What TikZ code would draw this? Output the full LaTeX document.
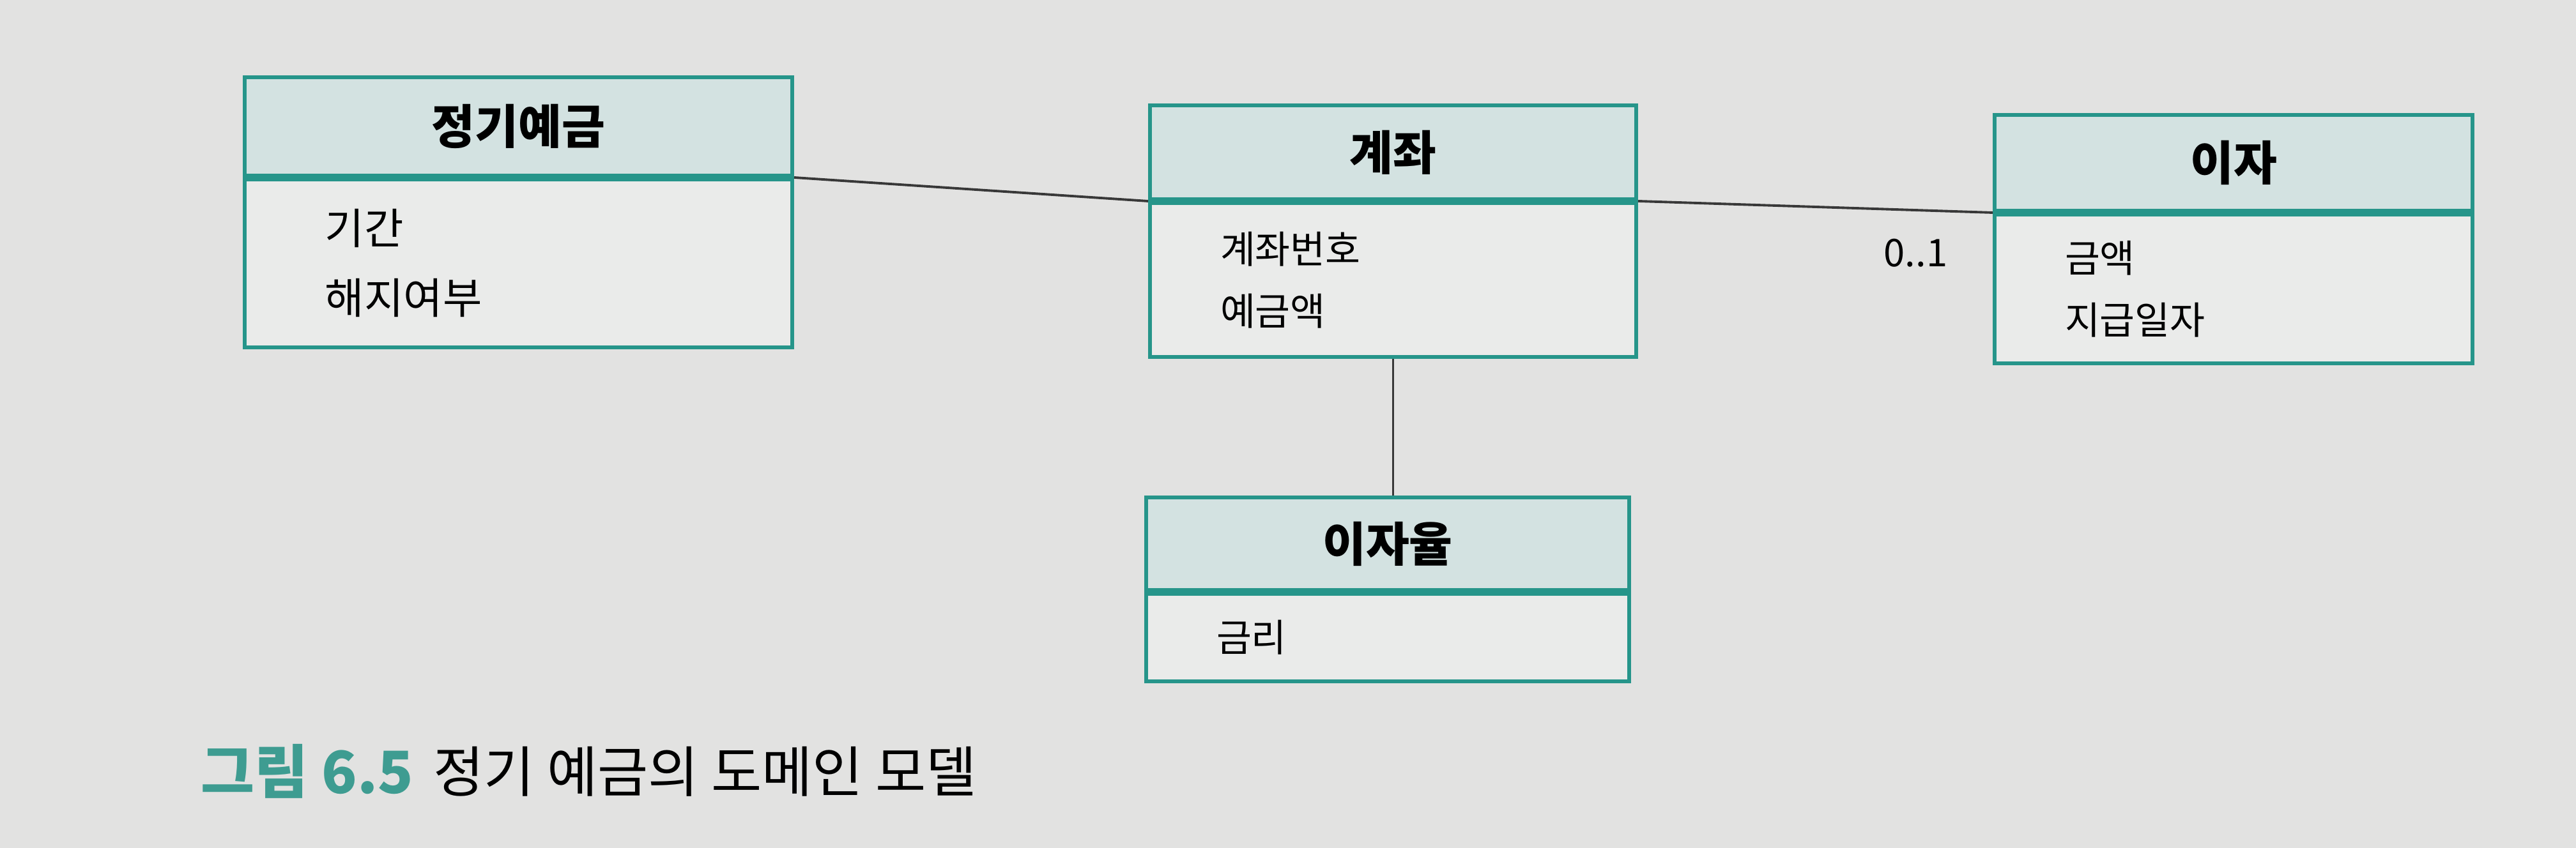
\documentclass[tikz,border=0pt]{standalone}
\usepackage{fontspec}
\setmainfont{Noto Sans CJK KR}
\usepackage{tikz}
\usetikzlibrary{positioning}

\definecolor{paper}{HTML}{E2E2E1}
\definecolor{boxline}{HTML}{26958A}
\definecolor{headfill}{HTML}{D3E2E1}
\definecolor{bodyfill}{HTML}{EAEBEA}
\definecolor{capteal}{HTML}{3E9C91}
\definecolor{wire}{HTML}{383838}

\tikzset{
  classhead/.style = {draw=boxline, line width=1.7pt, fill=headfill,
    inner sep=0pt, font=\fontsize{21}{25}\selectfont\bfseries},
  classbody/.style = {draw=boxline, line width=1.7pt, fill=bodyfill,
    inner xsep=1.1cm, inner ysep=0pt, align=left,
    font=\fontsize{17}{27.5}\selectfont},
  assoc/.style = {draw=wire, line width=1.1pt}
}

\begin{document}
\begin{tikzpicture}
    \useasboundingbox (0,0) rectangle (40.32,-13.28);
    \fill [paper] (0,0) rectangle (40.32,-13.28);

    % 클래스
    \node [classhead, anchor=north west, minimum width=8.57cm, minimum height=1.54cm]
      (jg) at (3.80,-1.18) {정기예금};
    \node [classbody, below=0pt of jg, minimum width=8.57cm, minimum height=2.63cm,
      inner xsep=1.26cm, text width=6.05cm, font=\fontsize{19}{31}\selectfont]
      (jgb) {기간\\해지여부\\[-0.15cm]};

    \node [classhead, anchor=north west, minimum width=7.61cm, minimum height=1.47cm]
      (gj) at (17.97,-1.62) {계좌};
    \node [classbody, below=0pt of gj, minimum width=7.61cm, minimum height=2.41cm,
      text width=5.41cm] (gjb) {계좌번호\\예금액};

    \node [classhead, anchor=north west, minimum width=7.48cm, minimum height=1.50cm]
      (ij) at (31.19,-1.77) {이자};
    \node [classbody, below=0pt of ij, minimum width=7.48cm, minimum height=2.33cm,
      text width=5.28cm] (ijb) {금액\\지급일자};

    \node [classhead, anchor=north west, minimum width=7.56cm, minimum height=1.45cm]
      (iy) at (17.91,-7.76) {이자율};
    \node [classbody, below=0pt of iy, minimum width=7.56cm, minimum height=1.37cm,
      text width=5.36cm] (iyb) {금리};

    % 연관
    \draw [assoc] (jg.south east) -- (gj.south west);
    \draw [assoc] (gj.south east) -- (ij.south west);
    \draw [assoc] (gjb.south) -- (gjb.south |- iy.north);
    \node [anchor=north east, inner sep=0pt, font=\fontsize{17}{20}\selectfont]
      (mult) at ([xshift=-0.7cm, yshift=-0.4cm]ij.south west) {0..1};

    % 캡션
    \node [anchor=west, inner sep=0pt, text=capteal, font=\fontsize{26}{30}\selectfont\bfseries]
      (figno) at (3.14,-12.08) {그림 6.5};
    \node [right=0.3cm of figno, inner sep=0pt, font=\fontsize{24.5}{30}\selectfont]
      (figcap) {정기 예금의 도메인 모델};
\end{tikzpicture}
\end{document}
